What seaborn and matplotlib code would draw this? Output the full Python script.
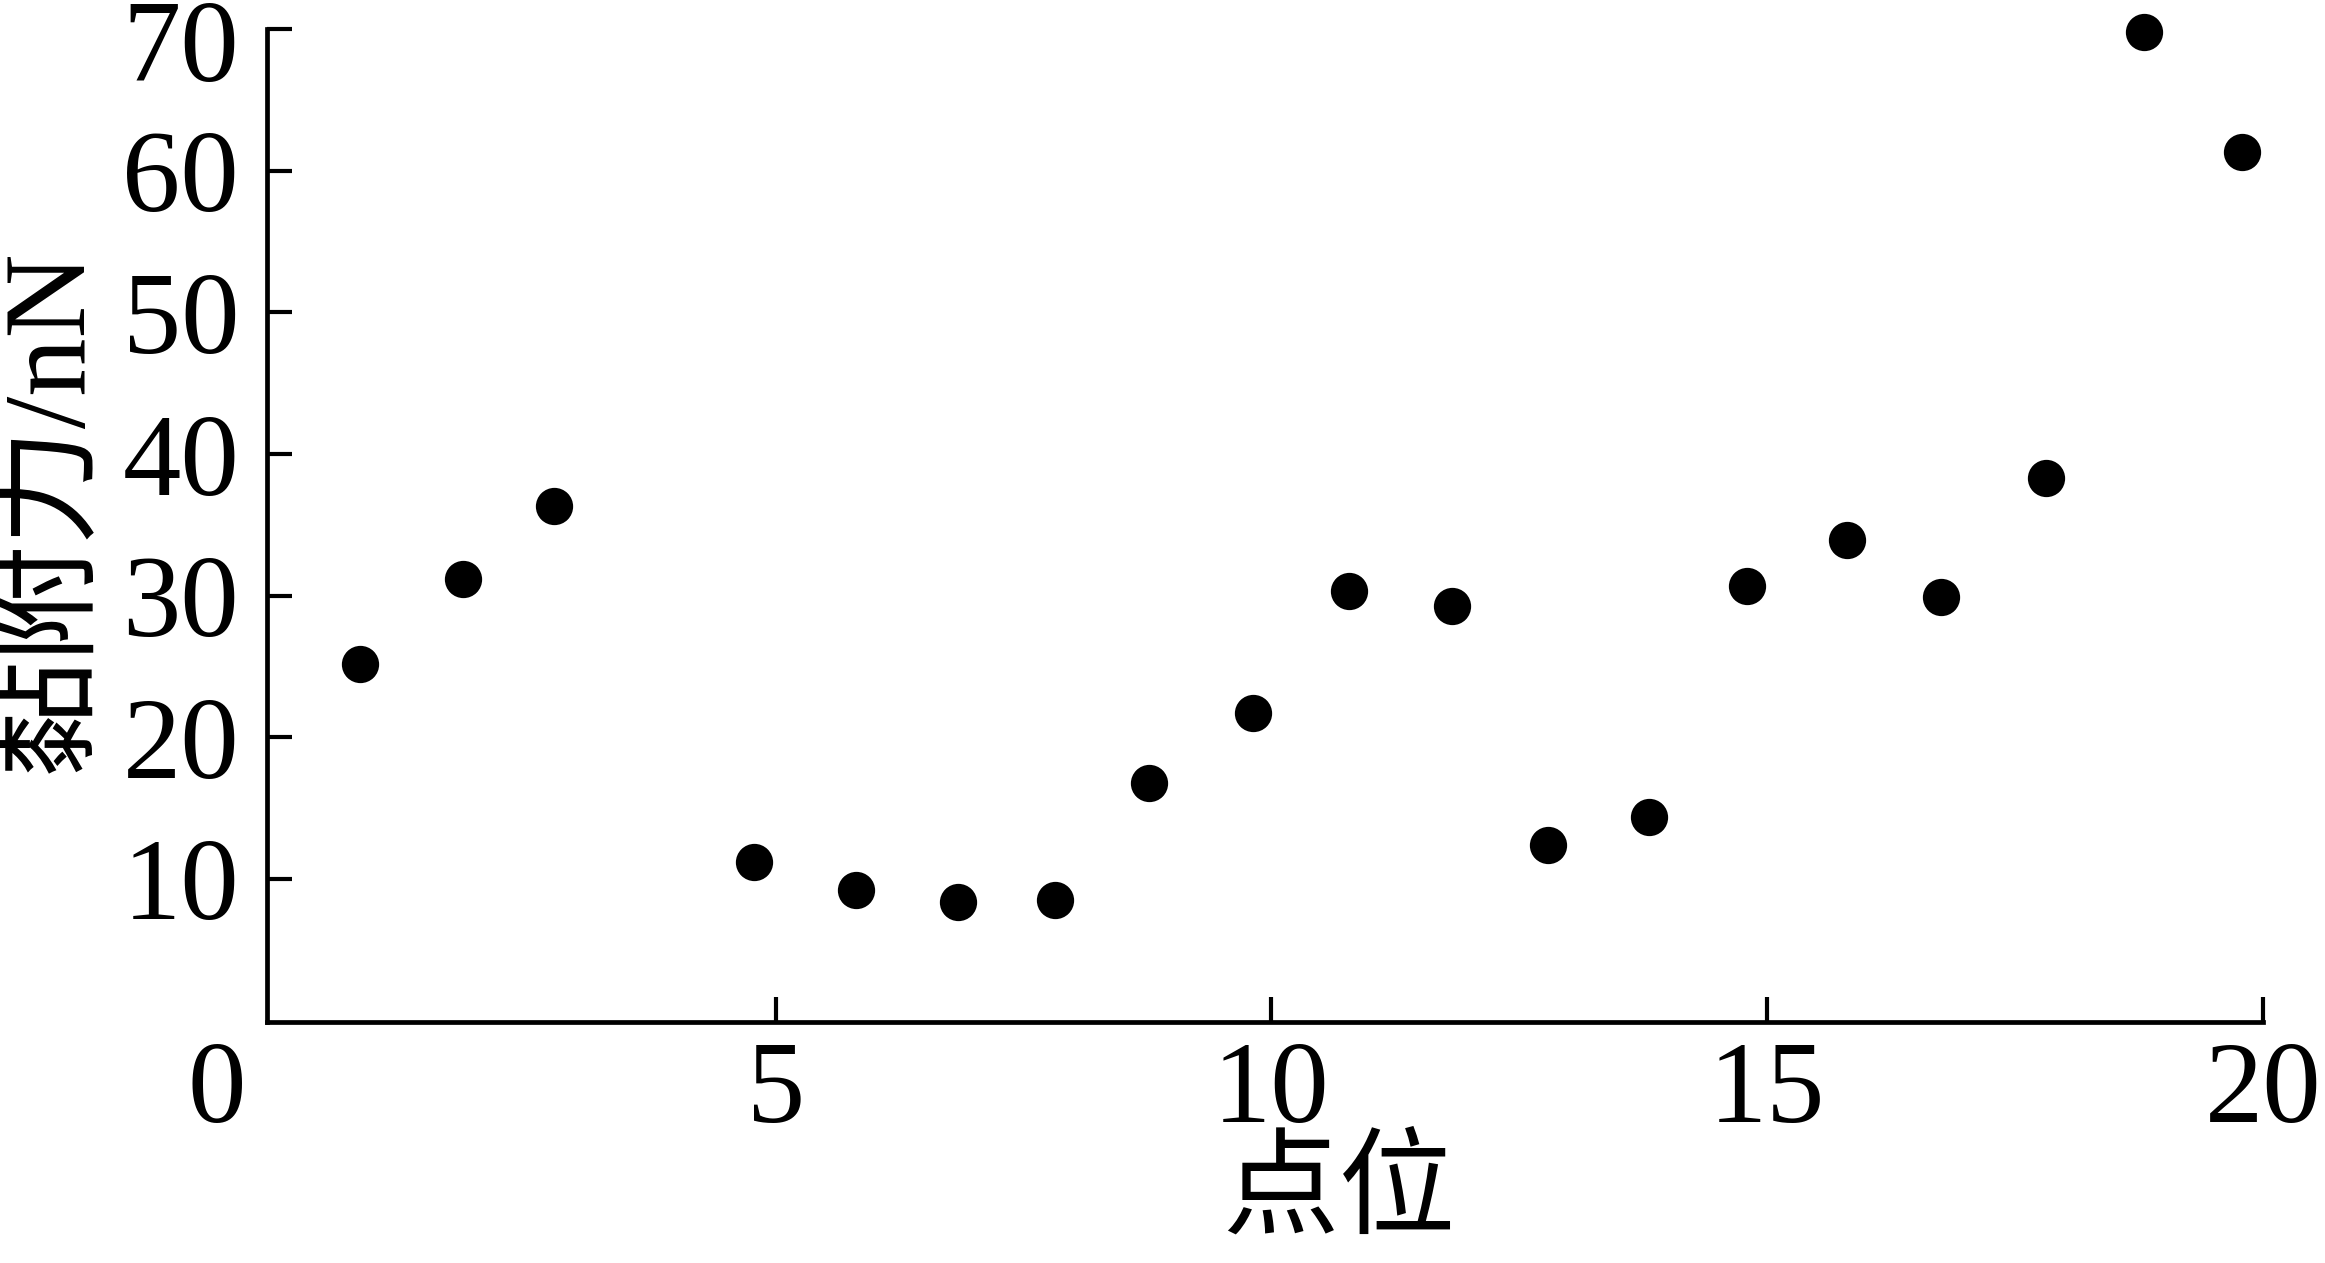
import pandas as pd
import matplotlib.pyplot as plt
import matplotlib.transforms as mtransforms
import seaborn as sns

# 数据
dianwei = [0.81, 1.85, 2.77, 4.78, 5.81, 6.84, 7.82, 8.77, 9.81, 10.78,
           11.82, 12.79, 13.81, 14.80, 15.81, 16.75, 17.81, 18.80, 19.79]
nianfuli = [25.2, 31.2, 36.3, 11.2, 9.2, 8.4, 8.5, 16.8, 21.7, 30.3,
            29.3, 12.4, 14.4, 30.7, 33.9, 29.9, 38.3, 69.8, 61.3]
x_ticks = [5, 10, 15, 20]
y_ticks = [10, 20, 30, 40, 50, 60, 70]

df = pd.DataFrame({'点位': dianwei, '黏附力': nianfuli})

sns.set_style('ticks')
plt.rcParams['font.family'] = ['Liberation Serif', 'Noto Sans CJK SC']
plt.rcParams['axes.unicode_minus'] = False
plt.rcParams['text.color'] = 'black'
plt.rcParams['axes.labelcolor'] = 'black'

fig = plt.figure(figsize=(23.25, 12.63), dpi=100)
ax = fig.add_axes([0.1148, 0.1908, 0.9733 - 0.1148, 0.977 - 0.1908])

sns.scatterplot(data=df, x='点位', y='黏附力', ax=ax, color='black',
                s=720, linewidth=0, marker='o', clip_on=False)

ax.set_xlim(-0.13, 20)
ax.set_ylim(-0.1, 70)
ax.set_xticks(x_ticks)
ax.set_yticks(y_ticks)

fs = 84
ax.tick_params(direction='in', length=18, width=3, labelsize=fs, colors='black')
ax.tick_params(axis='y', pad=20)
ax.tick_params(axis='x', pad=14)

for side in ['top', 'right']:
    ax.spines[side].set_visible(False)
for side in ['left', 'bottom']:
    ax.spines[side].set_linewidth(3.4)
    ax.spines[side].set_color('black')

# 顶部 70 稍微下移，避免超出画面
fig.canvas.draw()
for lab in ax.get_yticklabels():
    if lab.get_text() == '70':
        lab.set_transform(lab.get_transform() +
                          mtransforms.ScaledTranslation(0, -8 / 72, fig.dpi_scale_trans))

# 原点的 0
ax.annotate('0', xy=(0, 0), xycoords='axes fraction', xytext=(-36, -14),
            textcoords='offset points', ha='center', va='top', fontsize=fs)

ax.set_xlabel('点位', fontsize=fs)
ax.set_ylabel('黏附力/nN', fontsize=fs)
ax.xaxis.set_label_coords(0.537, -0.12)
ax.yaxis.set_label_coords(-0.108, 0.515)
ax.xaxis.label.set_va('top')
ax.yaxis.label.set_va('center')

fig.savefig('out.png', dpi=100, facecolor='white')
